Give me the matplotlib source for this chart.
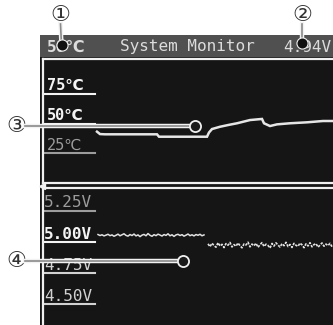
import matplotlib
matplotlib.use("Agg")
import matplotlib.pyplot as plt
import matplotlib.patheffects as pe
from matplotlib.patches import Rectangle
import numpy as np

# screen contents
title = "System Monitor"
header_temp = "50℃"
header_volt = "4.94V"

temp_ticks = [75, 50, 25]
temp_labels = ["75℃", "50℃", "25℃"]
temp_colors = ["#f4f4f4", "#f4f4f4", "#9c9c9c"]

volt_ticks = [5.25, 5.00, 4.75, 4.50]
volt_labels = ["5.25V", "5.00V", "4.75V", "4.50V"]
volt_colors = ["#9c9c9c", "#f4f4f4", "#d2d2d2", "#d2d2d2"]

# temperature trace (sample index, deg C)
temp_sample = [54, 57, 62, 114, 116, 164, 166, 169, 177, 186, 194, 207, 219,
               221, 227, 234, 247, 264, 280, 290]
temp_c = [43.2, 41.2, 41.0, 41.0, 39.0, 39.0, 42.5, 45.4, 47.3, 48.9, 50.2,
          52.9, 53.8, 50.2, 47.9, 49.3, 50.2, 51.0, 52.1, 52.1]

# voltage trace, before and after the load step (one value every 2 samples)
volt_before = [5.060, 5.052, 5.058, 5.049, 5.055, 5.062, 5.051, 5.057, 5.046,
               5.054, 5.063, 5.050, 5.058, 5.066, 5.053, 5.047, 5.060, 5.052,
               5.064, 5.049, 5.057, 5.043, 5.055, 5.061, 5.050, 5.068, 5.054,
               5.046, 5.059, 5.051, 5.063, 5.056, 5.048, 5.060, 5.053, 5.066,
               5.050, 5.058, 5.045, 5.057, 5.062, 5.052, 5.059, 5.047, 5.055,
               5.064, 5.051, 5.058, 5.049, 5.060, 5.054, 5.062, 5.050, 5.057]
volt_after = [4.985, 4.962, 4.990, 4.971, 4.958, 4.994, 4.968, 4.981, 4.955,
              4.987, 4.974, 4.996, 4.960, 4.979, 4.966, 4.992, 4.970, 4.953,
              4.984, 4.976, 4.998, 4.961, 4.983, 4.969, 4.990, 4.957, 4.978,
              4.995, 4.964, 4.982, 4.972, 4.951, 4.988, 4.967, 4.993, 4.975,
              4.959, 4.986, 4.970, 4.997, 4.963, 4.980, 4.956, 4.989, 4.973,
              4.965, 4.991, 4.977, 4.954, 4.985, 4.968, 4.994, 4.961, 4.979,
              4.987, 4.958, 4.975, 4.992, 4.966, 4.983, 4.971, 4.989, 4.962]

W, H = 333, 325
mono = ["DejaVu Sans Mono", "DejaVu Sans", "Noto Sans CJK JP"]
circ = ["DejaVu Sans", "Noto Sans CJK JP"]


def fx(x):
    return x / W


def fy(y):
    return 1 - y / H


fig = plt.figure(figsize=(3.33, 3.25), dpi=100)
fig.patch.set_facecolor("white")

# screen and title bar
fig.patches.append(Rectangle((fx(40), 0), 1 - fx(40), fy(35), transform=fig.transFigure,
                             facecolor="#151515", edgecolor="none", zorder=-2))
fig.patches.append(Rectangle((fx(40), fy(57)), 1 - fx(40), fy(35) - fy(57),
                             transform=fig.transFigure, facecolor="#505050",
                             edgecolor="none", zorder=-1))
fig.text(fx(187), fy(47), title, family=mono, size=11.5, color="#dcdcdc",
         ha="center", va="center")
fig.text(fx(47), fy(47), header_temp, family=mono, size=11.5, color="#dcdcdc",
         ha="left", va="center", weight="bold")
fig.text(fx(331), fy(47), header_volt, family=mono, size=11.5, color="#dcdcdc",
         ha="right", va="center")

# temperature panel
ax1 = fig.add_axes([fx(43), fy(183), 1 - fx(43), fy(59) - fy(183)])
ax1.set_xlim(0, 290)
ax1.set_ylim(0.4, 103.8)
ax1.plot(temp_sample, temp_c, color="#e6e6e6", lw=1.8, solid_joinstyle="miter")

for v, lab, c in zip(temp_ticks, temp_labels, temp_colors):
    ax1.axhline(v, xmin=0, xmax=0.18, color=c, lw=1.5)
    ax1.annotate(lab, xy=(0.014, v), xycoords=("axes fraction", "data"),
                 xytext=(0, 2.5), textcoords="offset points", va="baseline",
                 family=mono, size=11, color=c,
                 weight="bold" if c == "#f4f4f4" else "normal")

# voltage panel
ax2 = fig.add_axes([fx(43), 0, 1 - fx(43), fy(188)])
ax2.set_xlim(0, 290)
ax2.set_ylim(4.331, 5.435)
s_before = 55 + 2 * np.arange(len(volt_before))
s_after = 165 + 2 * np.arange(len(volt_after))
ax2.plot(s_before, volt_before, color="#e2e2e2", lw=1.1)
ax2.plot(s_after, volt_after, color="#e2e2e2", lw=1.2, ls=(0, (1.5, 0.8)))

for v, lab, c in zip(volt_ticks, volt_labels, volt_colors):
    ax2.axhline(v, xmin=0, xmax=0.18, color=c, lw=1.5)
    ax2.annotate(lab, xy=(0.0, v), xycoords=("axes fraction", "data"),
                 xytext=(0.5, 2.5), textcoords="offset points", va="baseline",
                 family=mono, size=11.5, color=c,
                 weight="bold" if c == "#f4f4f4" else "normal")

for ax in (ax1, ax2):
    ax.set_facecolor("#151515")
    ax.set_xticks([])
    ax.set_yticks([])
    for sp in ax.spines.values():
        sp.set_color("#f0f0f0")
        sp.set_linewidth(1.6)
    ax.spines["right"].set_visible(False)
ax2.spines["bottom"].set_visible(False)

# small pointer on the panel divider
fig.lines.append(plt.Line2D([fx(42)], [fy(185.5)], marker="<", color="#f0f0f0",
                            markersize=4, transform=fig.transFigure))

# callouts
halo = [pe.Stroke(linewidth=3.2, foreground="#f2f2f2"), pe.Normal()]
callouts = [
    ("①", (60.5, 15), [(60.5, 24), (61.5, 45)], "dot"),
    ("②", (302, 15), [(302, 24), (302, 43)], "dot"),
    ("③", (16, 125.5), [(25, 125.5), (195, 125.5)], "ring"),
    ("④", (16, 261), [(25, 261), (183, 261)], "ring"),
]
for num, (tx, ty), pts, kind in callouts:
    fig.text(fx(tx), fy(ty), num, family=circ, size=16, color="#333333",
             ha="center", va="center")
    xs = [fx(p[0]) for p in pts]
    ys = [fy(p[1]) for p in pts]
    fig.lines.append(plt.Line2D(xs, ys, color="#8a8a8a", lw=1.2,
                                transform=fig.transFigure, path_effects=halo,
                                zorder=10))
    fig.lines.append(plt.Line2D([xs[-1]], [ys[-1]], marker="o", markersize=8,
                                markerfacecolor="#111111" if kind == "dot" else "#1a1a1a",
                                markeredgecolor="#f0f0f0",
                                markeredgewidth=0.8 if kind == "dot" else 1.3,
                                transform=fig.transFigure, zorder=11))

fig.savefig("out.png", dpi=100)
